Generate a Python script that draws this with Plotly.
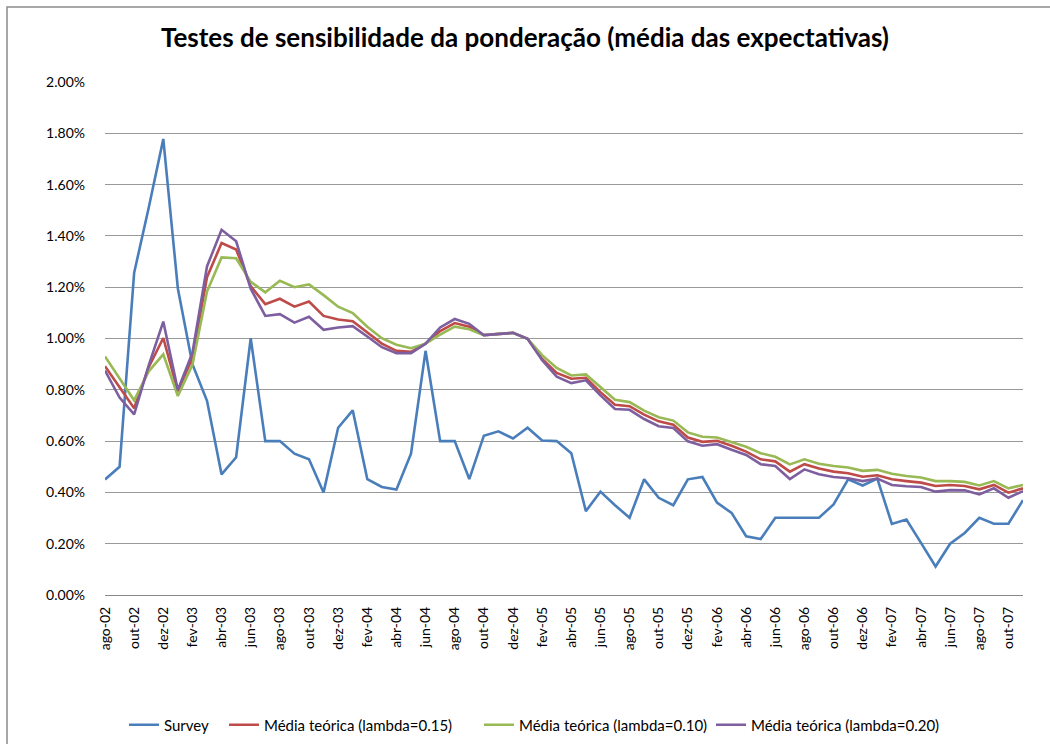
import plotly.graph_objects as go

months_pt = ["jan", "fev", "mar", "abr", "mai", "jun", "jul", "ago", "set", "out", "nov", "dez"]
categories = []
for yr in range(2002, 2008):
    for mi, m in enumerate(months_pt):
        if (yr == 2002 and mi < 7) or (yr == 2007 and mi > 10):
            continue
        categories.append(f"{m}-{str(yr)[2:]}")

survey = [0.45, 0.50, 1.256, 1.51, 1.778, 1.195, 0.90, 0.757, 0.470, 0.537, 1.001, 0.600,
          0.600, 0.551, 0.529, 0.400, 0.652, 0.720, 0.452, 0.421, 0.411, 0.551, 0.952, 0.600,
          0.600, 0.452, 0.621, 0.638, 0.610, 0.652, 0.602, 0.600, 0.553, 0.327, 0.403, 0.350,
          0.301, 0.451, 0.379, 0.350, 0.451, 0.460, 0.360, 0.320, 0.229, 0.218, 0.301, 0.301,
          0.301, 0.301, 0.353, 0.451, 0.427, 0.454, 0.277, 0.294, 0.203, 0.111, 0.200, 0.242,
          0.301, 0.278, 0.278, 0.370]

lambda_015 = [0.892, 0.81, 0.728, 0.888, 1.002, 0.794, 0.924, 1.239, 1.372, 1.347, 1.204, 1.134,
              1.155, 1.124, 1.144, 1.088, 1.074, 1.067, 1.022, 0.980, 0.952, 0.948, 0.980, 1.029,
              1.060, 1.046, 1.013, 1.018, 1.022, 0.999, 0.920, 0.866, 0.843, 0.847, 0.791, 0.742,
              0.736, 0.703, 0.677, 0.664, 0.614, 0.597, 0.601, 0.582, 0.559, 0.529, 0.521, 0.481,
              0.510, 0.493, 0.481, 0.475, 0.461, 0.467, 0.451, 0.444, 0.438, 0.425, 0.429, 0.425,
              0.412, 0.429, 0.399, 0.416]

lambda_010 = [0.930, 0.845, 0.759, 0.872, 0.938, 0.776, 0.897, 1.183, 1.316, 1.313, 1.221, 1.180,
              1.225, 1.200, 1.211, 1.169, 1.124, 1.099, 1.046, 1.001, 0.976, 0.962, 0.980, 1.015,
              1.046, 1.036, 1.013, 1.018, 1.022, 0.999, 0.935, 0.885, 0.856, 0.860, 0.810, 0.761,
              0.752, 0.719, 0.693, 0.680, 0.634, 0.617, 0.614, 0.595, 0.578, 0.553, 0.539, 0.509,
              0.529, 0.512, 0.503, 0.497, 0.484, 0.488, 0.473, 0.464, 0.458, 0.444, 0.444, 0.441,
              0.427, 0.444, 0.416, 0.429]

lambda_020 = [0.875, 0.77, 0.704, 0.895, 1.066, 0.799, 0.945, 1.281, 1.424, 1.379, 1.194, 1.088,
              1.095, 1.062, 1.085, 1.034, 1.043, 1.048, 1.008, 0.966, 0.943, 0.943, 0.980, 1.043,
              1.076, 1.057, 1.013, 1.018, 1.022, 0.999, 0.915, 0.851, 0.826, 0.837, 0.778, 0.725,
              0.722, 0.686, 0.658, 0.651, 0.599, 0.582, 0.588, 0.566, 0.546, 0.510, 0.503, 0.452,
              0.490, 0.471, 0.460, 0.455, 0.444, 0.454, 0.429, 0.424, 0.421, 0.403, 0.409, 0.408,
              0.392, 0.416, 0.379, 0.405]

tick_labels = categories[::2]
y_ticks = [0.0, 0.2, 0.4, 0.6, 0.8, 1.0, 1.2, 1.4, 1.6, 1.8, 2.0]

series = [
    ("Survey", survey, "#4A7EBB"),
    ("Média teórica (lambda=0.15)", lambda_015, "#BE4B48"),
    ("Média teórica (lambda=0.10)", lambda_010, "#98B954"),
    ("Média teórica (lambda=0.20)", lambda_020, "#7D5FA0"),
]

FONT = "Lato"
W, H = 1050, 744
L, R, T, B = 105, 1023, 82, 595
pw, ph = R - L, B - T
def px(p):
    return (p - L) / pw
def py(p):
    return (B - p) / ph

legend_ids = ["legend", "legend2", "legend3", "legend4"]
legend_x = [124, 224, 479, 711]

fig = go.Figure()
for (name, vals, col), lid in zip(series, legend_ids):
    fig.add_trace(go.Scatter(x=categories, y=vals, name=name, mode="lines",
                             line=dict(color=col, width=2.6), legend=lid))

legend_common = dict(orientation="h", xref="container", yref="container",
                     xanchor="left", yanchor="middle", y=(H - 725) / H,
                     font=dict(family=FONT, size=15, color="#000000"),
                     bgcolor="rgba(0,0,0,0)")
legend_layout = {lid: dict(legend_common, x=lx / W) for lid, lx in zip(legend_ids, legend_x)}

fig.update_layout(
    width=W, height=H,
    margin=dict(l=L, r=W - R, t=T, b=H - B, pad=0),
    paper_bgcolor="white", plot_bgcolor="white",
    font=dict(family=FONT, size=14, color="#000000"),
    title=dict(text="<b>Testes de sensibilidade da ponderação (média das expectativas)</b>",
               x=0.5, xanchor="center", y=1 - 38 / H, yanchor="middle",
               font=dict(family=FONT, size=26, color="#000000")),
    showlegend=True,
    xaxis=dict(type="category", categoryorder="array", categoryarray=categories,
               tickmode="array", tickvals=tick_labels, ticktext=tick_labels,
               tickangle=-90, range=[0, len(categories) - 1], automargin=False,
               showgrid=False, showline=False, zeroline=False, ticks="",
               ticklabelstandoff=8,
               tickfont=dict(family=FONT, size=14, color="#000000")),
    yaxis=dict(range=[0, 2.0], tickmode="array", tickvals=y_ticks,
               ticktext=[f"{v:.2f}%" for v in y_ticks], automargin=False,
               showgrid=True, gridcolor="#999999", gridwidth=1,
               zeroline=True, zerolinecolor="#888888", zerolinewidth=1,
               showline=False, ticks="", ticklabelstandoff=19,
               tickfont=dict(family=FONT, size=14, color="#000000")),
    shapes=[dict(type="rect", xref="paper", yref="paper",
                 x0=px(7), x1=px(W + 20), y0=py(H + 20), y1=py(7),
                 line=dict(color="#8c8c8c", width=1.5), fillcolor="rgba(0,0,0,0)",
                 layer="below")],
    **legend_layout,
)

fig.write_html("out.html", config={"displayModeBar": False},
               post_script="document.body.style.margin='0px';")
